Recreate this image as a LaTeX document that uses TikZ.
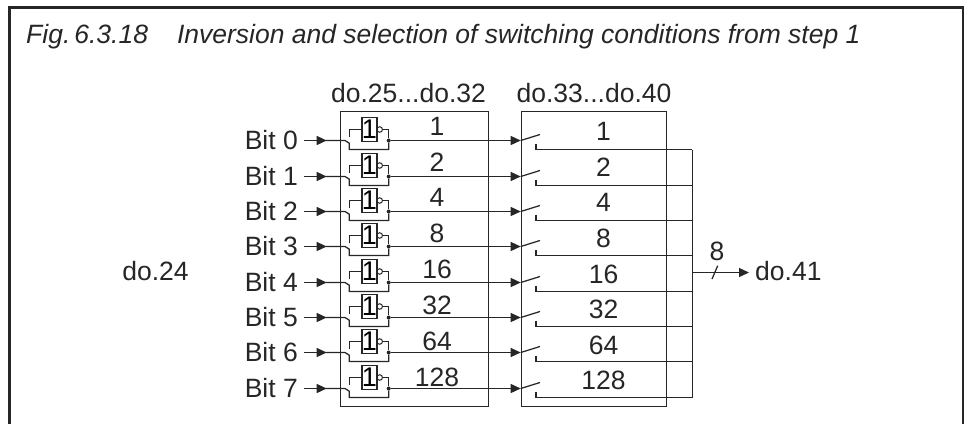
\documentclass[tikz,border=0pt]{standalone}
\usepackage{fontspec}
\setmainfont{Liberation Sans}
\usetikzlibrary{arrows.meta}
\tikzset{
    wire/.style={line width=1.25pt,draw=black!85},
    arrowwire/.style={wire,-{Triangle[length=10pt,width=9pt]}},
    gatebox/.style={draw=black!85,line width=1.25pt,minimum width=14.5pt,minimum height=24pt,inner sep=0pt,font=\fontsize{27}{27}\selectfont},
    invdot/.style={circle,draw=black!85,line width=1pt,minimum size=5.5pt,inner sep=0pt},
    jointdot/.style={circle,fill=black!85,minimum size=4pt,inner sep=0pt},
    lbl/.style={font=\fontsize{26.5}{26.5}\selectfont,text=black!85,inner sep=0pt},
    unitbox/.style={draw=black!85,line width=1.25pt,minimum width=148pt,minimum height=295pt,inner sep=0pt,anchor=north west}
}
\begin{document}
\begin{tikzpicture}[x=1pt,y=-1pt]
\useasboundingbox (0,0) rectangle (968,424);
% Frame
    \draw[line width=2.5pt,draw=black!85] (9.5,424) -- (9.5,7.3) -- (963,7.3) -- (963,424);
    \node[lbl,anchor=base west,font=\fontsize{26.5}{26.5}\selectfont\itshape] (title) at (26,43) {Fig.\hspace{4pt}6.3.18\hspace{29pt}Inversion and selection of switching conditions from step 1};
% Boxes
    \node[unitbox] (inbox) at (339.5,111) {};
    \node[unitbox,minimum width=145pt] (outbox) at (520.7,111) {};
    \node[lbl,anchor=base] (inhead) at (408.5,102) {do.25...do.32};
    \node[lbl,anchor=base] (outhead) at (594,102) {do.33...do.40};
    \node[lbl] (wordin) at (155.5,271) {do.24};
% Bus
    \coordinate (busjoin) at (692.3,272.5);
    \node[lbl,anchor=west] (wordout) at (755,271) {do.41};
    \draw[arrowwire,shorten >=6pt] (busjoin) -- (wordout.west |- busjoin);
    \coordinate (slashtop) at (717.7,265.7);
    \coordinate (slashbot) at (712,279);
    \draw[wire] (slashtop) -- (slashbot);
    \node[lbl] (buswidth) at (717,251) {8};
% One row per bit
    \foreach \i/\val in {0/1,1/2,2/4,3/8,4/16,5/32,6/64,7/128} {
        \pgfmathsetmacro{\rowy}{round(140.3+35.34*\i)+0.5}
        \pgfmathsetmacro{\iny}{126+35.9*\i}
        \pgfmathsetmacro{\outy}{131.7+35.57*\i}
        \node[lbl,anchor=east] (bit\i) at (298,\rowy-0.5) {Bit \i};
        \node[gatebox] (gate\i) at (369.5,\rowy-11) {1};
        \node[invdot] (inv\i) at (379.7,\rowy-11) {};
        \node[jointdot] (joint\i) at (388.7,\rowy) {};
        \node[lbl] (inval\i) at (437,\iny) {\val};
        \node[lbl] (outval\i) at (603.5,\outy) {\val};
        \coordinate (start\i) at (304,\rowy);
        \coordinate (pole\i) at (345,\rowy);
        \coordinate (bridge\i) at (349.3,\rowy+9);
        \coordinate (feed\i) at (349.3,\rowy-11);
        \coordinate (open\i) at (349.3,\rowy-4);
        \coordinate (sw\i) at (520.7,\rowy);
        \coordinate (swend\i) at (540,\rowy-6);
        \coordinate (contact\i) at (536,\rowy+3);
        \coordinate (tap\i) at (692.3,\rowy+9);
        % input
        \draw[arrowwire] (start\i) -- (326.7,\rowy);
        \draw[wire] (326,\rowy) -- (pole\i) -- (349.3,\rowy+2.7) -- (bridge\i) -- (388.7,\rowy+9) -- (joint\i);
        % gate
        \draw[wire] (open\i) -- (feed\i) -- (gate\i.west |- feed\i);
        \draw[wire] (inv\i.east) -| (joint\i);
        % output and switch
        \draw[arrowwire] (joint\i) -- (sw\i);
        \draw[wire] (sw\i) -- (swend\i);
        \draw[wire] (contact\i) |- (tap\i);
    }
    \draw[wire] (tap0) -- (tap7);
\end{tikzpicture}
\end{document}
